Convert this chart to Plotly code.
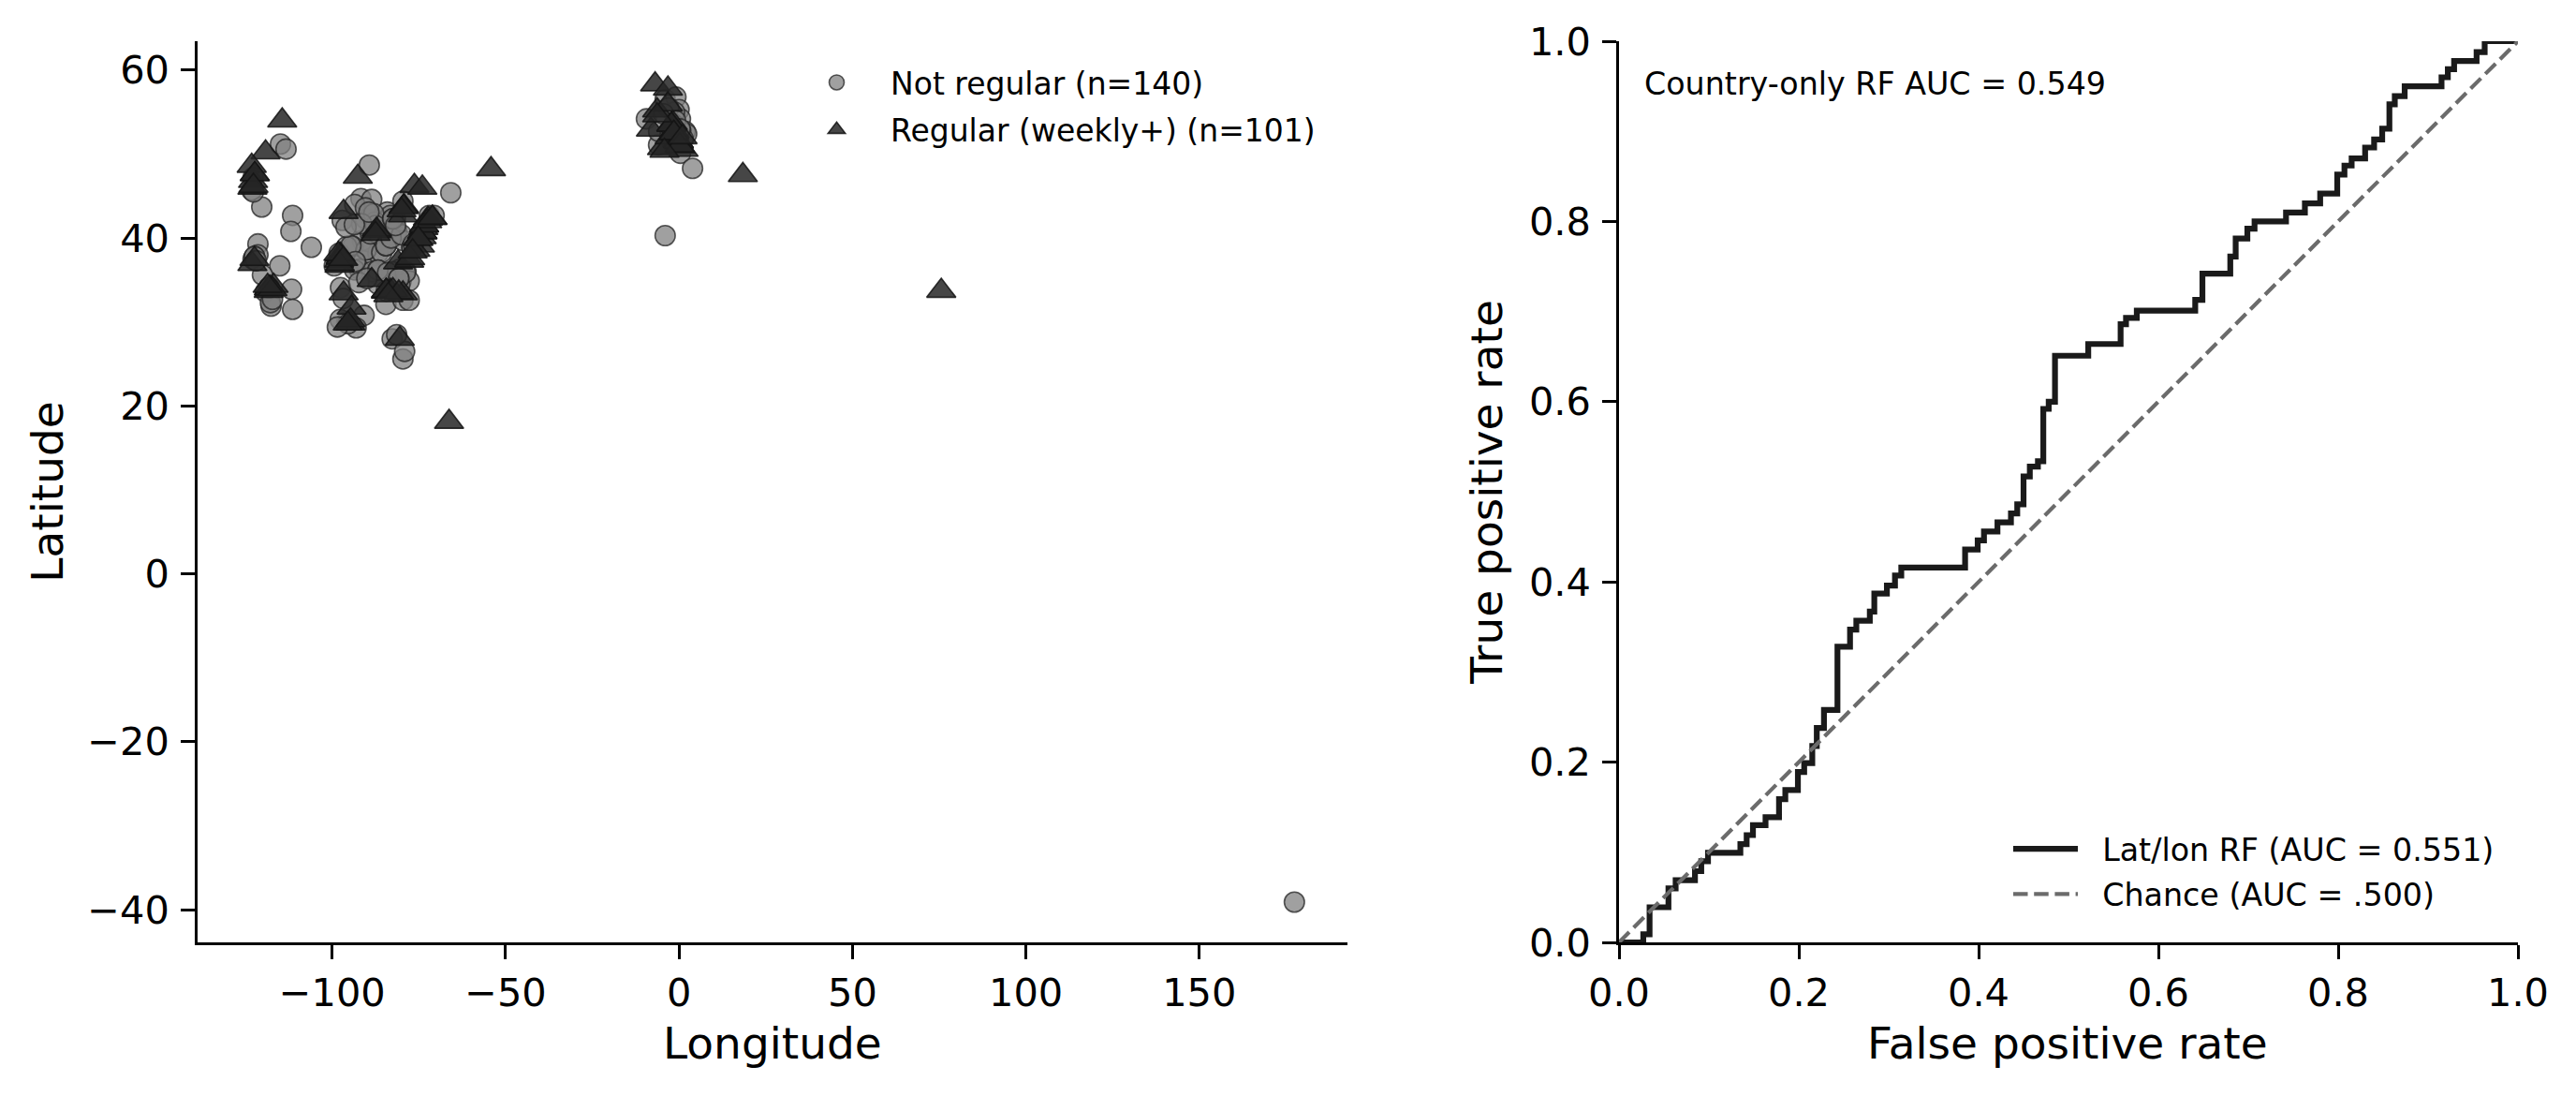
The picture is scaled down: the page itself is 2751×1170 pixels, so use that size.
import plotly.graph_objects as go

# target screen size; the page body has an 8px margin, so the figure is drawn 16px smaller
W, H = 2751, 1170
OFF = 8
FW, FH = W - 2 * OFF, H - 2 * OFF
FONT = "DejaVu Sans"

# ---------------- data: left panel (longitude / latitude) ----------------
not_reg_lon = [
    -114.9, -113.3, -122.8, -123.2, -120.3, -111.4, -121.4, -121.4, -122.8, -115.1,
    -120.1, -111.7, -119.2, -117.6, -111.4, -117.8, -106.0,
    -89.3, -65.8, -91.7, -88.6, -97.1, -89.5, -90.4, -84.1, -79.6, -72.0,
    -91.3, -94.0, -90.9, -85.0, -83.2, -86.8, -97.6, -86.8, -80.1, -84.5, -79.6,
    -90.8, -95.8, -93.1, -82.7, -79.6, -79.1, -80.5, -78.7, -70.6, -93.5, -90.4,
    -83.2, -81.8, -81.4, -79.6, -82.7, -77.8, -80.5, -77.8, -92.2, -93.5, -98.0,
    -95.8, -99.4, -86.8, -88.6,
    -9.4, -4.0, -0.9, 0.0, 0.4, 1.8, 2.2, -5.9, 0.4, 3.9, -4.0, -5.9, -1.3,
    177.4,
    -0.1, -0.1, -0.1, -1.5, -1.5, -2.5, -2.5, -3.0, 0.5, -1.0, 1.2, -4.5, -2.0, 0.3,
    -87.7, -87.7, -86.2, -86.2, -90.2, -90.2, -94.6, -93.3, -89.0, -88.0, -85.7,
    -84.5, -84.5, -83.0, -86.8, -86.8, -92.3, -90.0, -87.5, -91.5, -96.0, -93.6,
    -89.4, -84.0,
    -80.0, -82.5, -82.5, -78.9, -80.8, -80.8, -81.7, -77.0, -77.0, -76.6, -84.4, -81.4,
    -122.4, -122.4, -118.2, -118.2, -117.2, -121.9, -122.7, -111.9,
    -97.7, -96.8, -95.4, -98.5,
]
not_reg_lat = [
    51.2, 50.6, 47.2, 45.7, 43.7, 42.7, 39.3, 38.0, 37.5, 36.7,
    35.6, 33.9, 33.6, 31.9, 31.5, 32.3, 38.9,
    48.7, 45.4, 44.7, 44.6, 42.1, 42.7, 42.3, 43.1, 44.4, 42.7,
    39.7, 39.0, 37.3, 39.3, 40.4, 38.2, 34.1, 35.6, 34.9, 32.1, 32.6,
    30.8, 30.0, 29.3, 28.0, 25.6, 26.5, 36.3, 36.0, 42.7, 44.0, 43.6,
    42.7, 42.3, 40.8, 39.7, 36.0, 34.9, 34.5, 32.6, 36.3, 36.2, 38.2,
    39.0, 36.7, 34.5, 36.0,
    54.2, 56.5, 56.8, 55.3, 54.2, 52.7, 52.4, 51.1, 50.1, 48.3, 40.3, 52.7, 55.0,
    -39.1,
    51.5, 51.5, 51.5, 53.5, 53.5, 52.5, 52.5, 55.5, 52.8, 54.0, 51.8, 54.8, 51.4, 53.0,
    41.9, 41.9, 39.8, 39.8, 38.6, 38.6, 39.1, 37.2, 40.5, 42.9, 38.3,
    39.1, 39.1, 40.0, 36.2, 36.2, 34.7, 35.2, 41.5, 41.7, 41.3, 41.6,
    43.1, 35.9,
    40.4, 42.3, 42.3, 35.9, 35.2, 35.2, 41.5, 38.9, 38.9, 39.3, 33.7, 28.5,
    37.8, 37.8, 34.1, 34.1, 32.7, 37.3, 45.5, 40.8,
    30.3, 32.8, 29.8, 29.4,
]

reg_lon = [
    -114.4, -119.2, -123.2, -122.8, -123.0, -92.6, -54.2, -76.3, -74.0, -96.7,
    -79.3, -79.6, -87.2, -72.4, -73.7, -74.2, -74.7, -76.0, -97.6, -98.0,
    -97.9, -123.0, -117.8, -118.3, -116.9, -81.0, -77.8, -88.6, -84.5, -83.2,
    -79.6, -96.7, -94.4, -94.7, -80.5, -66.3,
    -6.9, -3.2, -6.3, -8.1, -4.9, -1.8, -1.3, -0.4, 0.4, 1.3, -2.7, 18.4,
    75.6,
    -0.1, -0.1, -0.1, -0.1, -2.2, -2.2, -1.5, -1.5, 0.2, 0.2, -3.2, -6.3, -4.2, 1.0,
    -74.0, -74.0, -74.0, -73.5, -73.5, -72.6, -71.1, -71.1, -75.2, -75.2,
    -97.5, -97.5, -97.5, -98.2, -97.8, -96.8,
    -84.4, -84.4, -82.5, -80.8, -83.8,
    -118.2, -118.2, -117.2, -118.6, -122.4,
    -122.3, -122.3, -122.7,
    -79.4, -79.4, -80.0,
    -87.2, -87.5,
    -94.7, -95.5,
    -77.5, -76.8,
]
reg_lat = [
    54.0, 50.2, 48.6, 46.8, 46.0, 47.3, 48.2, 46.2, 46.0, 43.1,
    43.8, 42.7, 40.8, 42.3, 41.2, 40.1, 39.1, 38.6, 38.0, 37.3,
    36.7, 36.9, 34.1, 33.7, 34.3, 37.1, 37.3, 35.0, 33.6, 33.7,
    33.4, 33.4, 31.7, 29.8, 28.0, 18.1,
    58.3, 57.8, 55.2, 52.9, 50.7, 53.7, 52.7, 51.6, 50.9, 50.5, 52.0, 47.5,
    33.7,
    51.5, 51.5, 51.5, 51.5, 53.5, 53.5, 52.5, 52.5, 51.0, 51.0, 55.9, 54.6, 50.4, 52.0,
    40.7, 40.7, 40.7, 41.5, 41.5, 42.0, 42.4, 42.4, 39.9, 39.9,
    37.7, 37.7, 37.7, 38.1, 36.9, 37.5,
    33.7, 33.7, 33.8, 33.5, 33.2,
    34.0, 34.0, 33.9, 34.3, 37.5,
    47.6, 47.6, 46.2,
    43.7, 43.7, 43.3,
    41.0, 40.5,
    30.2, 29.8,
    37.6, 38.4,
]

lon_ticks = [-100, -50, 0, 50, 100, 150]
lon_tick_labels = ["\u2212100", "\u221250", "0", "50", "100", "150"]
lat_ticks = [-40, -20, 0, 20, 40, 60]
lat_tick_labels = ["\u221240", "\u221220", "0", "20", "40", "60"]

# ---------------- data: right panel (ROC) ----------------
roc_fpr = [
    0.0, 0.027, 0.034, 0.055, 0.063, 0.0845, 0.0915, 0.099, 0.135, 0.142,
    0.149, 0.163, 0.178, 0.185, 0.199, 0.206, 0.215, 0.220, 0.228, 0.243,
    0.257, 0.264, 0.279, 0.284, 0.298, 0.307, 0.314, 0.385, 0.399, 0.406,
    0.421, 0.436, 0.443, 0.450, 0.457, 0.466, 0.472, 0.478, 0.485, 0.522,
    0.558, 0.564, 0.576, 0.641, 0.649, 0.680, 0.686, 0.699, 0.707, 0.742,
    0.763, 0.780, 0.799, 0.807, 0.815, 0.830, 0.840, 0.849, 0.857, 0.863,
    0.874, 0.915, 0.922, 0.929, 0.954, 0.963, 1.0,
]
roc_tpr = [
    0.0, 0.009, 0.039, 0.060, 0.069, 0.079, 0.090, 0.0995, 0.109, 0.119,
    0.130, 0.139, 0.159, 0.169, 0.189, 0.199, 0.218, 0.238, 0.258, 0.328,
    0.347, 0.357, 0.367, 0.387, 0.396, 0.407, 0.416, 0.436, 0.446, 0.456,
    0.466, 0.476, 0.486, 0.517, 0.528, 0.534, 0.592, 0.600, 0.651, 0.664,
    0.686, 0.693, 0.701, 0.713, 0.742, 0.761, 0.781, 0.792, 0.800, 0.810,
    0.820, 0.831, 0.852, 0.862, 0.870, 0.882, 0.891, 0.903, 0.930, 0.939,
    0.950, 0.960, 0.969, 0.978, 0.988, 1.0, 1.0,
]
chance_x = [0.0, 1.0]
chance_y = [0.0, 1.0]
rate_ticks = [0.0, 0.2, 0.4, 0.6, 0.8, 1.0]
rate_tick_labels = ["0.0", "0.2", "0.4", "0.6", "0.8", "1.0"]

# ---------------- figure ----------------
def px_x(p):
    """screen pixel (from left of window) -> paper x"""
    return (p - OFF) / FW

def px_y(p):
    """screen pixel (from top of window) -> paper y"""
    return 1 - (p - OFF) / FH

fig = go.Figure()

fig.add_trace(go.Scatter(
    x=not_reg_lon, y=not_reg_lat, mode="markers",
    name="Not regular (n=140)",
    marker=dict(symbol="circle", size=21.5, color="rgba(128,128,128,0.75)",
                line=dict(color="rgba(35,35,35,0.75)", width=1.6)),
    xaxis="x", yaxis="y", legend="legend", legendgroup="nr",
))
fig.add_trace(go.Scatter(
    x=reg_lon, y=reg_lat, mode="markers",
    name="Regular (weekly+) (n=101)",
    marker=dict(symbol="triangle-up", size=27, color="rgba(38,38,38,0.85)",
                line=dict(color="rgba(20,20,20,0.85)", width=1.6)),
    xaxis="x", yaxis="y", legend="legend", legendgroup="r",
))
fig.add_trace(go.Scatter(
    x=roc_fpr, y=roc_tpr, mode="lines",
    name="\u00a0\u00a0Lat/lon RF (AUC = 0.551)",
    line=dict(color="#1a1a1a", width=6.2, shape="hv"),
    xaxis="x2", yaxis="y2", legend="legend2", legendgroup="roc",
))
fig.add_trace(go.Scatter(
    x=chance_x, y=chance_y, mode="lines",
    name="\u00a0\u00a0Chance (AUC = .500)",
    line=dict(color="#6b6b6b", width=4.2, dash="15.5px,6.7px"),
    xaxis="x2", yaxis="y2", legend="legend2", legendgroup="ch",
))

axis_common = dict(
    showgrid=False, zeroline=False, showline=True, linecolor="black",
    linewidth=3.3, ticks="outside", ticklen=14.6, tickwidth=3.3,
    tickcolor="black", tickfont=dict(family=FONT, size=41.5, color="black"),
    mirror=False, automargin=False,
)
x_axis_common = dict(axis_common, ticklabelstandoff=0)
y_axis_common = dict(axis_common, ticklabelstandoff=4)

y_dom = [px_y(1006), px_y(44)]

fig.update_layout(
    template="none",
    width=FW, height=FH,
    margin=dict(l=0, r=0, t=0, b=0, pad=0),
    paper_bgcolor="white", plot_bgcolor="white",
    font=dict(family=FONT, color="black"),
    xaxis=dict(domain=[px_x(211), px_x(1439)], range=[-138.8, 192.7],
               tickmode="array", tickvals=lon_ticks, ticktext=lon_tick_labels,
               anchor="y", **x_axis_common),
    yaxis=dict(domain=y_dom, range=[-43.9, 63.45],
               tickmode="array", tickvals=lat_ticks, ticktext=lat_tick_labels,
               anchor="x", **y_axis_common),
    xaxis2=dict(domain=[px_x(1729), px_x(2689)], range=[0, 1],
                tickmode="array", tickvals=rate_ticks, ticktext=rate_tick_labels,
                anchor="y2", **x_axis_common),
    yaxis2=dict(domain=y_dom, range=[0, 1],
                tickmode="array", tickvals=rate_ticks, ticktext=rate_tick_labels,
                anchor="x2", **y_axis_common),
    legend=dict(x=px_x(836), xanchor="left", y=px_y(60), yanchor="top",
                font=dict(family=FONT, size=33, color="black"),
                bgcolor="rgba(0,0,0,0)", borderwidth=0, itemwidth=105,
                traceorder="grouped", tracegroupgap=4.5),
    legend2=dict(x=px_x(2145), xanchor="left", y=px_y(878), yanchor="top",
                 font=dict(family=FONT, size=33.3, color="black"),
                 bgcolor="rgba(0,0,0,0)", borderwidth=0, itemwidth=69,
                 traceorder="grouped", tracegroupgap=2),
    showlegend=True,
)

annotations = [
    dict(text="Latitude", x=px_x(49.7), y=px_y(525), xref="paper", yref="paper",
         textangle=-90, showarrow=False, xanchor="center", yanchor="middle",
         font=dict(family=FONT, size=47, color="black")),
    dict(text="Longitude", x=px_x(824.5), y=px_y(1113.7), xref="paper", yref="paper",
         showarrow=False, xanchor="center", yanchor="middle",
         font=dict(family=FONT, size=47, color="black")),
    dict(text="True positive rate", x=px_x(1586.7), y=px_y(525), xref="paper", yref="paper",
         textangle=-90, showarrow=False, xanchor="center", yanchor="middle",
         font=dict(family=FONT, size=47, color="black")),
    dict(text="False positive rate", x=px_x(2208), y=px_y(1113.7), xref="paper", yref="paper",
         showarrow=False, xanchor="center", yanchor="middle",
         font=dict(family=FONT, size=47, color="black")),
    dict(text="Country-only RF AUC = 0.549", x=px_x(1754), y=px_y(89.2),
         xref="paper", yref="paper", showarrow=False, xanchor="left", yanchor="middle",
         font=dict(family=FONT, size=33.3, color="black")),
]
fig.update_layout(annotations=annotations)

fig.write_html("out.html")
